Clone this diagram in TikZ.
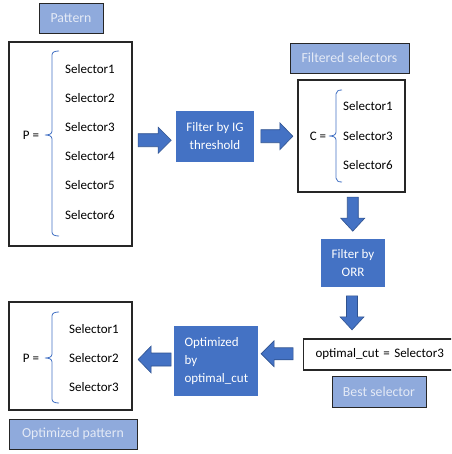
\documentclass[tikz,border=0pt]{standalone}
\usepackage{fontspec}
\setmainfont{Carlito}
\usetikzlibrary{calc}
\definecolor{dblue}{HTML}{4472C4}
\definecolor{dbord}{HTML}{2F528F}
\definecolor{lblue}{HTML}{8FAADC}
\definecolor{ltext}{HTML}{E4EAF6}
\definecolor{boxline}{HTML}{262626}
\tikzset{
  lbl/.style={draw=boxline, line width=0.9pt, fill=lblue, text=ltext, inner sep=0pt,
    font=\fontsize{13.8}{16}\selectfont},
  frame/.style={draw=boxline, line width=1.1pt, inner sep=0pt},
  proc/.style={fill=dblue, text=white, inner sep=0pt, align=center,
    font=\fontsize{13}{18}\selectfont},
  txt/.style={inner sep=0pt, font=\fontsize{13}{15}\selectfont, text=black},
  sel/.style={txt, anchor=west},
  barrowsty/.style={draw=dbord, line width=0.6pt, fill=dblue, line join=miter},
  brace/.style={draw=dblue, line width=0.8pt}
}
% #1 centre, #2 angle, #3 half length, #4 head start, #5 half head width, #6 half shaft width
\newcommand{\blockarrow}[6]{%
  \begin{scope}[shift={(#1)}, rotate=#2]
    \draw[barrowsty] (-#3,-#6) -- (#4,-#6) -- (#4,-#5) -- (#3,0) -- (#4,#5) -- (#4,#6) -- (-#3,#6) -- cycle;
  \end{scope}}
\begin{document}
\begin{tikzpicture}[x=1pt, y=-1pt]
\clip (0,0) rectangle (451,454);
\fill[white] (0,0) rectangle (451,454);

% labels
\node[lbl, minimum width=64pt, minimum height=30pt] (patlbl) at (71,18) {Pattern};
\node[lbl, minimum width=119pt, minimum height=30pt] (fsellbl) at (349.5,58) {Filtered selectors};
\node[lbl, minimum width=94pt, minimum height=31pt] (bestlbl) at (379,391.5) {Best selector};
\node[lbl, minimum width=128pt, minimum height=30pt] (optlbl) at (73,434) {Optimized pattern};

% pattern box
\node[frame, minimum width=123pt, minimum height=204pt] (pbox) at (70.5,144) {};
\node[txt] (peq) at (31,135) {P =};
\node[sel] (s1) at (65,69) {Selector1};
\node[sel] (s2) at (65,98) {Selector2};
\node[sel] (s3) at (65,127) {Selector3};
\node[sel] (s4) at (65,156) {Selector4};
\node[sel] (s5) at (65,185) {Selector5};
\node[sel] (s6) at (65,215) {Selector6};
\draw[brace] (59,51) .. controls (55,51) and (52,52) .. (52,55) -- (52,131)
  .. controls (52,134) and (49,135) .. (45,135) .. controls (49,135) and (52,136) .. (52,139)
  -- (52,232) .. controls (52,235) and (55,236) .. (59,236);

% filter IG
\node[proc, minimum width=78pt, minimum height=51pt] (figl) at (215,136.5) {Filter by IG\\threshold};

% C box
\node[frame, minimum width=107pt, minimum height=112pt] (cbox) at (351.5,136) {};
\node[txt] (ceq) at (318,136) {C =};
\node[sel] (c1) at (343,106) {Selector1};
\node[sel] (c3) at (343,136) {Selector3};
\node[sel] (c6) at (343,165) {Selector6};
\draw[brace] (342,90) .. controls (338.5,90) and (336,91) .. (336,94) -- (336,132)
  .. controls (336,135) and (333,136) .. (329,136) .. controls (333,136) and (336,137) .. (336,140)
  -- (336,178) .. controls (336,181) and (338.5,182) .. (342,182);

% filter ORR
\node[proc, minimum width=64pt, minimum height=48pt] (forr) at (353,263) {Filter by\\ORR};

% optimal cut
\node[frame, anchor=west, minimum height=31pt, inner xsep=12pt, text width=135pt, align=left,
  font=\fontsize{13}{15}\selectfont] (ocut) at (303,354.5) {optimal\_cut = Selector3};

% optimized by
\node[proc, minimum width=84pt, minimum height=70pt, text width=63pt, align=left] (optby) at (216,361)
  {Optimized\\by\\optimal\_cut};

% bottom pattern box
\node[frame, minimum width=123pt, minimum height=108pt] (obox) at (70.5,356) {};
\node[txt] (oeq) at (31,358) {P =};
\node[sel] (o1) at (69,329) {Selector1};
\node[sel] (o2) at (69,358) {Selector2};
\node[sel] (o3) at (69,387) {Selector3};
\draw[brace] (59,312) .. controls (55,312) and (52,313) .. (52,316) -- (52,354)
  .. controls (52,357) and (49,358) .. (45,358) .. controls (49,358) and (52,359) .. (52,362)
  -- (52,399) .. controls (52,402) and (55,403) .. (59,403);

% block arrows (placed between the named nodes they join)
\coordinate (a1) at ($(pbox.east)!0.5!(figl.west)+(0.5,0)$);
\coordinate (a2) at ($(figl.east)!0.5!(cbox.west)+(1,0)$);
\coordinate (a3) at ($(cbox.south)!0.5!(forr.north)+(0.5,-1.5)$);
\coordinate (a4) at ($(forr.south |- forr.south)!0.5!(forr.south |- ocut.north)+(-1,0)$);
\coordinate (a5) at ($(optby.east)!0.5!(ocut.west)+(-3.5,-4)$);
\coordinate (a6) at ($(obox.east)!0.5!(optby.west)+(1.5,1)$);
\blockarrow{a1}{0}{16.5}{3.5}{13}{6.5}
\blockarrow{a2}{0}{16}{3}{13.5}{6.5}
\blockarrow{a3}{-90}{17}{4}{12}{5.5}
\blockarrow{a4}{-90}{17}{4}{12}{5.5}
\blockarrow{a5}{180}{16}{3}{13}{6}
\blockarrow{a6}{180}{16.5}{3.5}{13.5}{6.5}
\end{tikzpicture}
\end{document}
